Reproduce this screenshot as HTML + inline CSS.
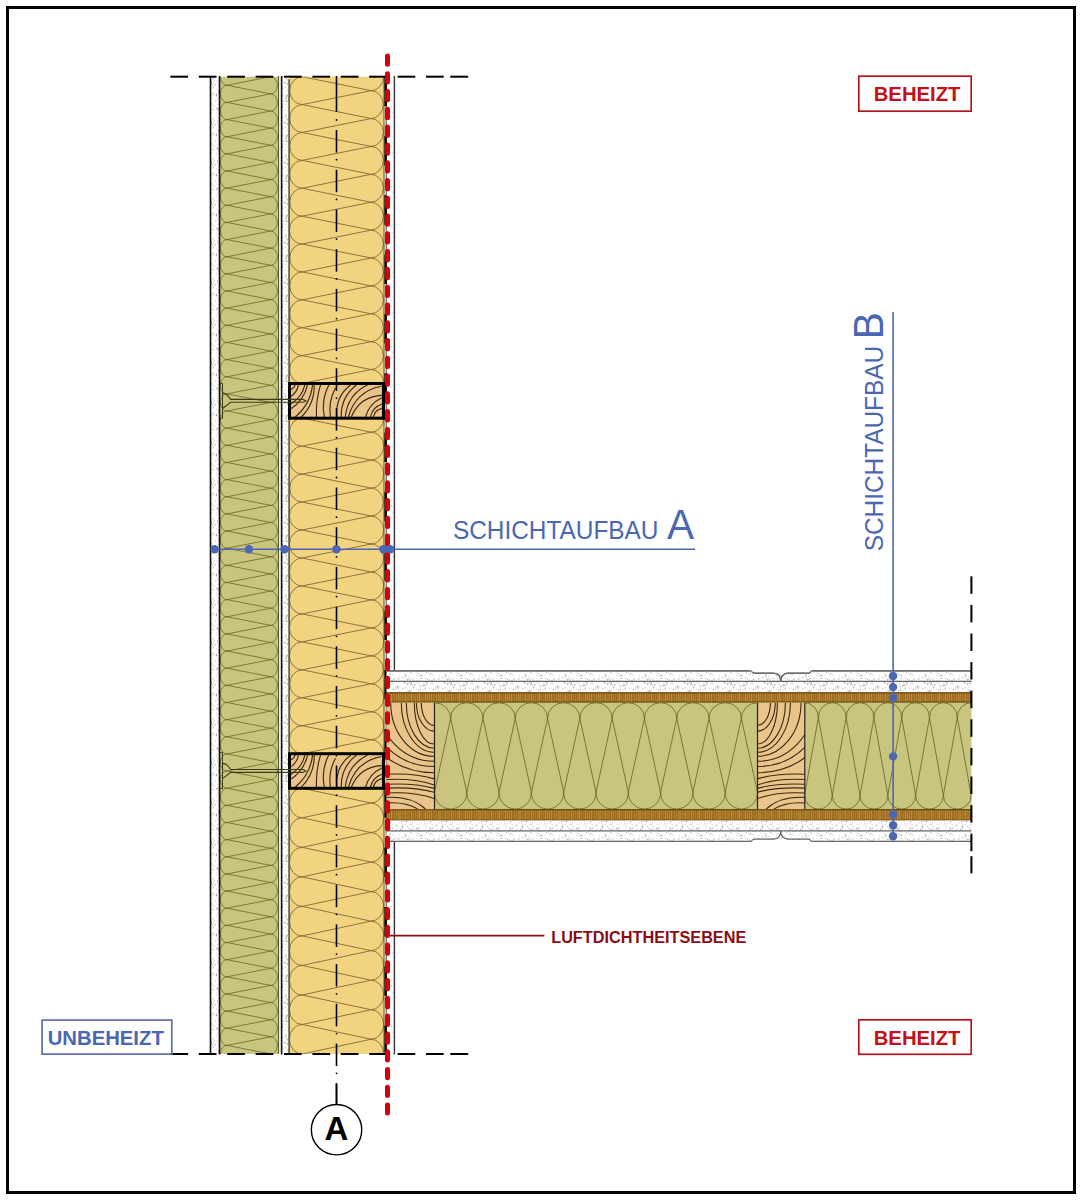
<!DOCTYPE html><html><head><meta charset="utf-8"><style>html,body{margin:0;padding:0;background:#fff;overflow:hidden}svg{display:block}</style></head><body><svg width="1082" height="1200" viewBox="0 0 1082 1200"><defs><pattern id="st" width="40" height="40" patternUnits="userSpaceOnUse"><rect width="40" height="40" fill="#fff"/><circle cx="12.95" cy="6.03" r="0.55" fill="#777"/><circle cx="2.9" cy="21.44" r="0.5" fill="#bbb"/><circle cx="2.32" cy="20.3" r="0.4" fill="#777"/><circle cx="17.35" cy="2.79" r="0.4" fill="#bbb"/><circle cx="16.98" cy="33.07" r="0.4" fill="#888"/><circle cx="25.23" cy="23.32" r="0.4" fill="#bbb"/><circle cx="23.42" cy="1.98" r="0.4" fill="#777"/><circle cx="22.27" cy="5.33" r="0.5" fill="#888"/><circle cx="21.63" cy="22.84" r="0.55" fill="#ccc"/><circle cx="27.28" cy="4.12" r="0.55" fill="#ccc"/><circle cx="7.51" cy="3.9" r="0.55" fill="#777"/><circle cx="22.57" cy="24.76" r="0.5" fill="#ccc"/><circle cx="21.27" cy="31.09" r="0.5" fill="#bbb"/><circle cx="36.94" cy="14.46" r="0.4" fill="#ccc"/><circle cx="7.19" cy="31.19" r="0.4" fill="#bbb"/><circle cx="12.01" cy="19.8" r="0.5" fill="#ccc"/><circle cx="17.95" cy="24.36" r="0.4" fill="#777"/><circle cx="20.48" cy="6.6" r="0.5" fill="#888"/><circle cx="37.33" cy="16.87" r="0.55" fill="#777"/><circle cx="30.58" cy="22.92" r="0.5" fill="#999"/><circle cx="27.81" cy="23.77" r="0.55" fill="#ccc"/><circle cx="18.25" cy="33.6" r="0.5" fill="#aaa"/><circle cx="27.88" cy="2.6" r="0.55" fill="#ccc"/><circle cx="12.38" cy="23.12" r="0.55" fill="#ccc"/><circle cx="17.83" cy="28.67" r="0.55" fill="#999"/><circle cx="0.9" cy="18.47" r="0.4" fill="#bbb"/><circle cx="4.68" cy="2.36" r="0.5" fill="#888"/><circle cx="29.53" cy="15.92" r="0.5" fill="#777"/><circle cx="6.65" cy="16.07" r="0.5" fill="#888"/><circle cx="32.77" cy="34.56" r="0.5" fill="#ccc"/><circle cx="16.61" cy="14.35" r="0.5" fill="#888"/><circle cx="6.04" cy="7.05" r="0.4" fill="#ccc"/><circle cx="9.33" cy="19.4" r="0.55" fill="#888"/><circle cx="10.51" cy="0.16" r="0.5" fill="#bbb"/><circle cx="14.77" cy="22.65" r="0.4" fill="#ccc"/><circle cx="34.37" cy="38.01" r="0.55" fill="#ccc"/><circle cx="29.59" cy="18.27" r="0.55" fill="#ccc"/><circle cx="22.37" cy="15.92" r="0.5" fill="#777"/><circle cx="19.26" cy="16.02" r="0.4" fill="#777"/><circle cx="39.39" cy="17.63" r="0.4" fill="#999"/><circle cx="24.03" cy="4.1" r="0.55" fill="#888"/><circle cx="21.46" cy="37.96" r="0.55" fill="#777"/><circle cx="2.81" cy="8.32" r="0.5" fill="#888"/><circle cx="25.38" cy="38.22" r="0.55" fill="#999"/><circle cx="18.97" cy="4.61" r="0.5" fill="#aaa"/><circle cx="19.22" cy="12.47" r="0.4" fill="#777"/><circle cx="29.99" cy="29.61" r="0.5" fill="#ccc"/><circle cx="27.68" cy="20.65" r="0.4" fill="#bbb"/><circle cx="14.47" cy="27.6" r="0.4" fill="#ccc"/><circle cx="21.12" cy="39.14" r="0.4" fill="#ccc"/><circle cx="33.82" cy="20.74" r="0.4" fill="#999"/><circle cx="30.88" cy="21.3" r="0.55" fill="#999"/><circle cx="25.46" cy="24.53" r="0.4" fill="#ccc"/><circle cx="9.58" cy="16.03" r="0.4" fill="#888"/><circle cx="20.71" cy="14.22" r="0.4" fill="#777"/><circle cx="31.6" cy="18.89" r="0.4" fill="#ccc"/><circle cx="24.21" cy="13.77" r="0.55" fill="#999"/><circle cx="38.2" cy="14.59" r="0.4" fill="#777"/><circle cx="9.07" cy="7.87" r="0.4" fill="#aaa"/><circle cx="24.96" cy="36.01" r="0.4" fill="#aaa"/><circle cx="36.37" cy="13.76" r="0.55" fill="#777"/><circle cx="33.39" cy="4.8" r="0.5" fill="#ccc"/><circle cx="28.46" cy="7.97" r="0.4" fill="#aaa"/><circle cx="31.57" cy="13.3" r="0.55" fill="#aaa"/><circle cx="18.53" cy="29.73" r="0.4" fill="#ccc"/><circle cx="6.35" cy="39.72" r="0.4" fill="#888"/><circle cx="23.63" cy="18.61" r="0.55" fill="#888"/><circle cx="24.46" cy="23.83" r="0.5" fill="#ccc"/><circle cx="37.5" cy="6.24" r="0.55" fill="#888"/><circle cx="0.86" cy="31.97" r="0.55" fill="#ccc"/><circle cx="4.11" cy="29.98" r="0.4" fill="#aaa"/><circle cx="39.46" cy="7.79" r="0.4" fill="#777"/><circle cx="10.07" cy="11.72" r="0.4" fill="#ccc"/><circle cx="23.46" cy="10.37" r="0.5" fill="#ccc"/><circle cx="5.24" cy="36.4" r="0.5" fill="#aaa"/><circle cx="26.5" cy="32.6" r="0.55" fill="#aaa"/><circle cx="33.09" cy="35.13" r="0.4" fill="#bbb"/><circle cx="6.07" cy="20.42" r="0.5" fill="#ccc"/><circle cx="7.32" cy="0.16" r="0.4" fill="#888"/><circle cx="5.66" cy="24.76" r="0.4" fill="#bbb"/><circle cx="2.47" cy="27.29" r="0.55" fill="#bbb"/><circle cx="19.3" cy="31.06" r="0.55" fill="#777"/><circle cx="9.94" cy="11.08" r="0.4" fill="#bbb"/><circle cx="18.09" cy="1.11" r="0.4" fill="#aaa"/><circle cx="13.02" cy="38.93" r="0.55" fill="#bbb"/><circle cx="7.98" cy="11.09" r="0.55" fill="#bbb"/><circle cx="32.29" cy="20.31" r="0.4" fill="#ccc"/><circle cx="20.93" cy="35.04" r="0.5" fill="#bbb"/><circle cx="35.71" cy="8.1" r="0.5" fill="#888"/><circle cx="16.67" cy="15.69" r="0.5" fill="#777"/><circle cx="26.85" cy="17.13" r="0.4" fill="#ccc"/><circle cx="12.11" cy="4.89" r="0.4" fill="#ccc"/><circle cx="25.74" cy="14.65" r="0.5" fill="#888"/><circle cx="38.7" cy="8.78" r="0.4" fill="#aaa"/><circle cx="35.4" cy="6.51" r="0.55" fill="#ccc"/><circle cx="8.95" cy="28.25" r="0.55" fill="#aaa"/><circle cx="13.56" cy="7.83" r="0.5" fill="#777"/><circle cx="28.89" cy="0.78" r="0.55" fill="#aaa"/><circle cx="17.62" cy="0.72" r="0.5" fill="#bbb"/><circle cx="24.96" cy="20.49" r="0.4" fill="#777"/><circle cx="39.4" cy="31.53" r="0.4" fill="#777"/><circle cx="10.62" cy="1.58" r="0.4" fill="#999"/><circle cx="30.23" cy="32.79" r="0.55" fill="#ccc"/><circle cx="37.84" cy="16.24" r="0.55" fill="#bbb"/><circle cx="22.82" cy="28.02" r="0.4" fill="#999"/><circle cx="2.3" cy="27.53" r="0.5" fill="#777"/><circle cx="10.76" cy="0.67" r="0.4" fill="#ccc"/><circle cx="10.42" cy="24.33" r="0.4" fill="#777"/><circle cx="10.58" cy="4.87" r="0.4" fill="#999"/><circle cx="39.77" cy="16.71" r="0.5" fill="#bbb"/><circle cx="5.17" cy="21.08" r="0.4" fill="#777"/><circle cx="38.77" cy="10.48" r="0.4" fill="#888"/><circle cx="37.29" cy="25.15" r="0.55" fill="#ccc"/><circle cx="8.23" cy="17.83" r="0.55" fill="#888"/><circle cx="10.82" cy="32.15" r="0.5" fill="#777"/><circle cx="0.61" cy="29.32" r="0.55" fill="#888"/><circle cx="20.57" cy="9.83" r="0.5" fill="#777"/><circle cx="26.33" cy="26" r="0.55" fill="#aaa"/><circle cx="21.84" cy="35.55" r="0.55" fill="#999"/><circle cx="27.51" cy="39.3" r="0.5" fill="#888"/><circle cx="33.29" cy="28.27" r="0.55" fill="#888"/><circle cx="16.19" cy="13.9" r="0.4" fill="#ccc"/><circle cx="5.19" cy="2.83" r="0.55" fill="#999"/><circle cx="17.23" cy="2.22" r="0.55" fill="#ccc"/><circle cx="15.24" cy="20.24" r="0.5" fill="#bbb"/><circle cx="9.69" cy="11.72" r="0.5" fill="#888"/><circle cx="6.3" cy="17.83" r="0.5" fill="#999"/><circle cx="38.47" cy="38.9" r="0.55" fill="#999"/><circle cx="9.78" cy="38.63" r="0.5" fill="#888"/><circle cx="14.26" cy="0.04" r="0.5" fill="#777"/><circle cx="18.99" cy="20.11" r="0.4" fill="#888"/><circle cx="20.19" cy="0.2" r="0.5" fill="#ccc"/><circle cx="3.59" cy="15.98" r="0.4" fill="#aaa"/><circle cx="0.9" cy="12.17" r="0.4" fill="#777"/><circle cx="23.42" cy="21.17" r="0.4" fill="#ccc"/><circle cx="35.71" cy="31.36" r="0.55" fill="#aaa"/><circle cx="30.57" cy="28.83" r="0.5" fill="#888"/><circle cx="11.37" cy="24.75" r="0.4" fill="#777"/><circle cx="32.99" cy="28.6" r="0.55" fill="#ccc"/><circle cx="17.17" cy="28.04" r="0.55" fill="#888"/><circle cx="36.4" cy="30.11" r="0.55" fill="#ccc"/><circle cx="32.52" cy="0.64" r="0.55" fill="#bbb"/><circle cx="31.92" cy="28.45" r="0.55" fill="#ccc"/><circle cx="9.2" cy="1.25" r="0.4" fill="#ccc"/><circle cx="14.43" cy="4.2" r="0.5" fill="#bbb"/><circle cx="2.03" cy="0.75" r="0.55" fill="#ccc"/><circle cx="9.78" cy="10.55" r="0.5" fill="#ccc"/><circle cx="2.8" cy="37.3" r="0.55" fill="#777"/><circle cx="26.37" cy="2.64" r="0.55" fill="#aaa"/><circle cx="10.09" cy="2.98" r="0.5" fill="#888"/><circle cx="29.17" cy="8.21" r="0.55" fill="#ccc"/><circle cx="39.03" cy="19.76" r="0.5" fill="#777"/><circle cx="19.16" cy="27.35" r="0.4" fill="#bbb"/><circle cx="25.31" cy="7.93" r="0.55" fill="#888"/><circle cx="13.27" cy="26.06" r="0.55" fill="#999"/><circle cx="24.85" cy="5.34" r="0.5" fill="#777"/><circle cx="19.43" cy="38.9" r="0.4" fill="#ccc"/><circle cx="8.71" cy="19.58" r="0.55" fill="#bbb"/><circle cx="11.42" cy="18.64" r="0.4" fill="#bbb"/><circle cx="7.97" cy="39.13" r="0.5" fill="#777"/><circle cx="11.58" cy="3.06" r="0.55" fill="#aaa"/><circle cx="39.76" cy="15.47" r="0.4" fill="#777"/><circle cx="23.26" cy="5.67" r="0.55" fill="#999"/><circle cx="38.11" cy="5.3" r="0.55" fill="#bbb"/><circle cx="11.18" cy="4.51" r="0.5" fill="#888"/><circle cx="19.92" cy="35.05" r="0.5" fill="#777"/><circle cx="6.36" cy="38" r="0.55" fill="#aaa"/><circle cx="16.22" cy="29.09" r="0.5" fill="#999"/><circle cx="15.04" cy="4.84" r="0.5" fill="#777"/><circle cx="12.98" cy="13.53" r="0.5" fill="#777"/><circle cx="37.6" cy="7.83" r="0.4" fill="#ccc"/><circle cx="11.59" cy="14.89" r="0.5" fill="#aaa"/><circle cx="39.95" cy="23.57" r="0.5" fill="#aaa"/><circle cx="30.23" cy="34.17" r="0.5" fill="#777"/><circle cx="2.06" cy="26.48" r="0.55" fill="#888"/><circle cx="9.97" cy="10.63" r="0.55" fill="#999"/><circle cx="7.59" cy="14.93" r="0.5" fill="#777"/><circle cx="32.48" cy="25.24" r="0.55" fill="#bbb"/><circle cx="8.14" cy="3.22" r="0.55" fill="#aaa"/><circle cx="18.03" cy="30.11" r="0.55" fill="#ccc"/><circle cx="11.45" cy="1.96" r="0.55" fill="#888"/><circle cx="6.83" cy="16.59" r="0.5" fill="#999"/><circle cx="10.23" cy="29.55" r="0.55" fill="#999"/><circle cx="16.25" cy="9.55" r="0.5" fill="#bbb"/><circle cx="26.76" cy="4.79" r="0.55" fill="#888"/><circle cx="3.01" cy="20.02" r="0.5" fill="#bbb"/><circle cx="8.8" cy="36.25" r="0.5" fill="#aaa"/><circle cx="5.58" cy="7.7" r="0.4" fill="#888"/><circle cx="13.68" cy="3.64" r="0.4" fill="#999"/><circle cx="10.33" cy="22.78" r="0.4" fill="#ccc"/><circle cx="34.82" cy="15.31" r="0.55" fill="#bbb"/><circle cx="8.4" cy="10.81" r="0.4" fill="#aaa"/><circle cx="11.1" cy="38.71" r="0.4" fill="#ccc"/><circle cx="20.14" cy="25.19" r="0.4" fill="#777"/><circle cx="10.84" cy="9.94" r="0.5" fill="#ccc"/><circle cx="17.83" cy="38.16" r="0.4" fill="#888"/><circle cx="1.29" cy="28.38" r="0.5" fill="#bbb"/><circle cx="19.59" cy="2.93" r="0.55" fill="#ccc"/><circle cx="18.73" cy="17.96" r="0.4" fill="#888"/><circle cx="6.18" cy="20.89" r="0.55" fill="#777"/><circle cx="37.66" cy="28.87" r="0.55" fill="#ccc"/><circle cx="30.59" cy="18.29" r="0.55" fill="#ccc"/><circle cx="1.58" cy="31.29" r="0.4" fill="#bbb"/><circle cx="36.8" cy="25.82" r="0.5" fill="#888"/><circle cx="25.06" cy="21.13" r="0.5" fill="#ccc"/><circle cx="30.55" cy="3.98" r="0.5" fill="#bbb"/><circle cx="37.74" cy="7.67" r="0.5" fill="#888"/><circle cx="31.62" cy="0.05" r="0.55" fill="#999"/><circle cx="39.85" cy="11.14" r="0.5" fill="#ccc"/><circle cx="33.58" cy="9.69" r="0.55" fill="#888"/><circle cx="21.88" cy="1.17" r="0.5" fill="#ccc"/><circle cx="25.99" cy="2.21" r="0.4" fill="#aaa"/><circle cx="35.39" cy="25.89" r="0.4" fill="#999"/><circle cx="9.11" cy="16.97" r="0.5" fill="#888"/><circle cx="19.72" cy="27.83" r="0.55" fill="#aaa"/><circle cx="14.49" cy="15.85" r="0.4" fill="#ccc"/><circle cx="11.68" cy="33.81" r="0.4" fill="#888"/><circle cx="19.83" cy="8.02" r="0.4" fill="#888"/><circle cx="18.6" cy="10.6" r="0.5" fill="#777"/><circle cx="38.08" cy="19.83" r="0.4" fill="#888"/><circle cx="19.4" cy="36.42" r="0.4" fill="#bbb"/><circle cx="5.86" cy="15.74" r="0.4" fill="#777"/><circle cx="38.96" cy="5.68" r="0.4" fill="#ccc"/><circle cx="2.41" cy="15.73" r="0.55" fill="#999"/><circle cx="29.31" cy="39.9" r="0.4" fill="#999"/><circle cx="7.63" cy="26.1" r="0.55" fill="#ccc"/><circle cx="18.7" cy="12.47" r="0.55" fill="#aaa"/><circle cx="33.57" cy="39.4" r="0.5" fill="#888"/><circle cx="4.36" cy="3.13" r="0.4" fill="#999"/><circle cx="16.81" cy="35.41" r="0.55" fill="#ccc"/><circle cx="8.3" cy="14.27" r="0.5" fill="#ccc"/><circle cx="32.16" cy="3.51" r="0.55" fill="#aaa"/><circle cx="7.83" cy="21.66" r="0.5" fill="#888"/><circle cx="12.93" cy="29.49" r="0.5" fill="#777"/><circle cx="25.27" cy="9.92" r="0.55" fill="#ccc"/><circle cx="16.19" cy="15.02" r="0.5" fill="#777"/><circle cx="32.13" cy="2.48" r="0.4" fill="#ccc"/><circle cx="2.51" cy="24.22" r="0.5" fill="#999"/><circle cx="13.4" cy="38.15" r="0.4" fill="#999"/><circle cx="29.86" cy="27.58" r="0.5" fill="#999"/><circle cx="0.15" cy="30.23" r="0.55" fill="#777"/><circle cx="0.97" cy="9.35" r="0.5" fill="#ccc"/><circle cx="38.27" cy="38.16" r="0.5" fill="#ccc"/><circle cx="10.04" cy="17.2" r="0.5" fill="#888"/><circle cx="37.12" cy="7.32" r="0.55" fill="#999"/><circle cx="32.91" cy="30.91" r="0.55" fill="#888"/><circle cx="13.11" cy="12.78" r="0.5" fill="#ccc"/><circle cx="31.29" cy="3.16" r="0.4" fill="#aaa"/><circle cx="30.12" cy="9.89" r="0.4" fill="#ccc"/><circle cx="1.35" cy="22.1" r="0.5" fill="#888"/><circle cx="39.21" cy="35.34" r="0.4" fill="#999"/><circle cx="24.98" cy="8.33" r="0.5" fill="#aaa"/><circle cx="39.54" cy="38.88" r="0.4" fill="#888"/><circle cx="5.32" cy="18.44" r="0.55" fill="#888"/><circle cx="29.92" cy="33.88" r="0.55" fill="#ccc"/><circle cx="4.85" cy="33.63" r="0.5" fill="#999"/><circle cx="22.68" cy="14.92" r="0.55" fill="#999"/><circle cx="7.97" cy="9.9" r="0.4" fill="#888"/><circle cx="6.13" cy="35.37" r="0.55" fill="#888"/><circle cx="13.05" cy="15.84" r="0.4" fill="#bbb"/></pattern><pattern id="st2" width="40" height="40" patternUnits="userSpaceOnUse"><rect width="40" height="40" fill="#fff"/><circle cx="21.05" cy="25.99" r="0.45" fill="#999"/><circle cx="26.13" cy="39.64" r="0.45" fill="#999"/><circle cx="0.18" cy="35.31" r="0.45" fill="#999"/><circle cx="33.62" cy="36.58" r="0.45" fill="#999"/><circle cx="35.08" cy="9.32" r="0.45" fill="#999"/><circle cx="7.58" cy="38.92" r="0.45" fill="#ccc"/><circle cx="7.77" cy="3" r="0.45" fill="#ccc"/><circle cx="34.65" cy="17.96" r="0.45" fill="#bbb"/><circle cx="31" cy="26.59" r="0.45" fill="#999"/><circle cx="4.23" cy="23.85" r="0.45" fill="#ccc"/><circle cx="13.99" cy="1.5" r="0.45" fill="#bbb"/><circle cx="5.65" cy="8.16" r="0.45" fill="#bbb"/><circle cx="1.53" cy="29.29" r="0.45" fill="#999"/><circle cx="32.59" cy="32.75" r="0.45" fill="#bbb"/><circle cx="27.13" cy="7.41" r="0.45" fill="#bbb"/><circle cx="3.12" cy="1.26" r="0.45" fill="#bbb"/><circle cx="21.92" cy="2.53" r="0.45" fill="#999"/><circle cx="31.83" cy="26.56" r="0.45" fill="#999"/><circle cx="25.57" cy="3.65" r="0.45" fill="#999"/><circle cx="15.91" cy="10.85" r="0.45" fill="#bbb"/><circle cx="26.71" cy="16.71" r="0.45" fill="#999"/><circle cx="12.49" cy="22.66" r="0.45" fill="#bbb"/><circle cx="16.56" cy="0.73" r="0.45" fill="#bbb"/><circle cx="25.78" cy="15.63" r="0.45" fill="#bbb"/><circle cx="8.15" cy="0.24" r="0.45" fill="#999"/><circle cx="16.95" cy="32.81" r="0.45" fill="#bbb"/><circle cx="23.11" cy="14.59" r="0.45" fill="#999"/><circle cx="5.2" cy="2.07" r="0.45" fill="#999"/><circle cx="25.63" cy="36.39" r="0.45" fill="#999"/><circle cx="22.91" cy="37.09" r="0.45" fill="#ccc"/><circle cx="20.18" cy="5.84" r="0.45" fill="#bbb"/><circle cx="6.47" cy="6.87" r="0.45" fill="#999"/><circle cx="4.35" cy="19.62" r="0.45" fill="#999"/><circle cx="12.06" cy="33.49" r="0.45" fill="#999"/><circle cx="39.02" cy="19.31" r="0.45" fill="#999"/><circle cx="24.31" cy="25.45" r="0.45" fill="#999"/><circle cx="36.17" cy="24.81" r="0.45" fill="#999"/><circle cx="25.61" cy="34.26" r="0.45" fill="#ccc"/><circle cx="16.18" cy="33.85" r="0.45" fill="#bbb"/><circle cx="7.32" cy="8.73" r="0.45" fill="#bbb"/><circle cx="37.54" cy="6.26" r="0.45" fill="#bbb"/><circle cx="4.92" cy="9.88" r="0.45" fill="#ccc"/><circle cx="32.63" cy="7.7" r="0.45" fill="#ccc"/><circle cx="33.7" cy="26.89" r="0.45" fill="#ccc"/><circle cx="33.53" cy="4.71" r="0.45" fill="#ccc"/><circle cx="18.23" cy="33.96" r="0.45" fill="#bbb"/><circle cx="25.96" cy="12.33" r="0.45" fill="#999"/><circle cx="17.03" cy="26.35" r="0.45" fill="#bbb"/><circle cx="20.14" cy="7.15" r="0.45" fill="#999"/><circle cx="24.76" cy="19.58" r="0.45" fill="#999"/><circle cx="17.87" cy="24.74" r="0.45" fill="#bbb"/><circle cx="33.46" cy="32.42" r="0.45" fill="#bbb"/><circle cx="4.28" cy="5.14" r="0.45" fill="#bbb"/><circle cx="14.61" cy="32.09" r="0.45" fill="#ccc"/><circle cx="20.41" cy="1.63" r="0.45" fill="#ccc"/><circle cx="5.21" cy="36.89" r="0.45" fill="#bbb"/><circle cx="31.11" cy="20.46" r="0.45" fill="#999"/><circle cx="30.08" cy="35.79" r="0.45" fill="#ccc"/><circle cx="38.03" cy="5.45" r="0.45" fill="#999"/><circle cx="39.84" cy="29.28" r="0.45" fill="#999"/></pattern><pattern id="osb" width="40" height="20" patternUnits="userSpaceOnUse"><rect width="40" height="20" fill="#9a6818"/><rect x="0.3" y="0" width="0.7" height="20" fill="#bc8e3e"/><rect x="2.4" y="0" width="0.9" height="20" fill="#bc8e3e"/><rect x="4.8" y="0" width="1.0" height="20" fill="#bc8e3e"/><rect x="6.6" y="0" width="0.9" height="20" fill="#b5883a"/><rect x="8.7" y="0" width="0.7" height="20" fill="#c39842"/><rect x="11.1" y="0" width="0.9" height="20" fill="#c39842"/><rect x="12.9" y="0" width="0.9" height="20" fill="#b5883a"/><rect x="15" y="0" width="0.7" height="20" fill="#b5883a"/><rect x="17.1" y="0" width="1.0" height="20" fill="#b5883a"/><rect x="18.9" y="0" width="0.9" height="20" fill="#c39842"/><rect x="20.7" y="0" width="0.7" height="20" fill="#bc8e3e"/><rect x="22.8" y="0" width="0.7" height="20" fill="#b5883a"/><rect x="24.9" y="0" width="1.0" height="20" fill="#c39842"/><rect x="27" y="0" width="0.7" height="20" fill="#c39842"/><rect x="28.8" y="0" width="1.0" height="20" fill="#bc8e3e"/><rect x="31.2" y="0" width="0.9" height="20" fill="#c39842"/><rect x="33.6" y="0" width="1.0" height="20" fill="#b5883a"/><rect x="36" y="0" width="0.7" height="20" fill="#c39842"/><rect x="38.4" y="0" width="1.0" height="20" fill="#c39842"/></pattern><clipPath id="cg"><rect x="219.5" y="76.7" width="59" height="977.3"/></clipPath><clipPath id="cy0"><rect x="289" y="76.7" width="95.5" height="306.8"/></clipPath><clipPath id="cy1"><rect x="289" y="418.2" width="95.5" height="335.5"/></clipPath><clipPath id="cy2"><rect x="289" y="788.3" width="95.5" height="265.7"/></clipPath><clipPath id="ct1"><rect x="289.5" y="383.5" width="94" height="34.7"/></clipPath><clipPath id="ct2"><rect x="289.5" y="753.7" width="94" height="34.6"/></clipPath><clipPath id="cfa"><rect x="434.5" y="702.7" width="323" height="106.4"/></clipPath><clipPath id="cfb"><rect x="804.5" y="702.7" width="166.9" height="106.4"/></clipPath><clipPath id="cb1"><rect x="387" y="702.7" width="47.5" height="106.4"/></clipPath><clipPath id="cb2"><rect x="757.5" y="702.7" width="47.3" height="106.4"/></clipPath></defs><rect width="1082" height="1200" fill="#fff"/><rect x="7.5" y="7.5" width="1067" height="1185" fill="none" stroke="#000" stroke-width="3"/><rect x="211" y="76.7" width="8.5" height="977.3" fill="url(#st)"/><rect x="282" y="76.7" width="7" height="977.3" fill="url(#st)"/><rect x="386" y="76.7" width="8.5" height="977.3" fill="url(#st2)"/><rect x="219.5" y="76.7" width="59" height="977.3" fill="#c9c57f"/><path clip-path="url(#cg)" d="M227 50.98A6.6 8.57 0 0 0 227 68.13M270.7 42.41A6.7 8.57 0 0 1 270.7 59.56M227 33.84L270.7 42.41M227 50.98L270.7 42.41M227 68.13A6.6 8.57 0 0 0 227 85.27M270.7 59.56A6.7 8.57 0 0 1 270.7 76.7M227 50.98L270.7 59.56M227 68.13L270.7 59.56M227 85.27A6.6 8.57 0 0 0 227 102.42M270.7 76.7A6.7 8.57 0 0 1 270.7 93.84M227 68.13L270.7 76.7M227 85.27L270.7 76.7M227 102.42A6.6 8.57 0 0 0 227 119.56M270.7 93.84A6.7 8.57 0 0 1 270.7 110.99M227 85.27L270.7 93.84M227 102.42L270.7 93.84M227 119.56A6.6 8.57 0 0 0 227 136.71M270.7 110.99A6.7 8.57 0 0 1 270.7 128.14M227 102.42L270.7 110.99M227 119.56L270.7 110.99M227 136.71A6.6 8.57 0 0 0 227 153.85M270.7 128.13A6.7 8.57 0 0 1 270.7 145.28M227 119.56L270.7 128.13M227 136.71L270.7 128.13M227 153.85A6.6 8.57 0 0 0 227 171M270.7 145.28A6.7 8.57 0 0 1 270.7 162.43M227 136.71L270.7 145.28M227 153.85L270.7 145.28M227 171A6.6 8.57 0 0 0 227 188.14M270.7 162.43A6.7 8.57 0 0 1 270.7 179.57M227 153.85L270.7 162.43M227 171L270.7 162.43M227 188.14A6.6 8.57 0 0 0 227 205.29M270.7 179.57A6.7 8.57 0 0 1 270.7 196.72M227 171L270.7 179.57M227 188.14L270.7 179.57M227 205.29A6.6 8.57 0 0 0 227 222.43M270.7 196.72A6.7 8.57 0 0 1 270.7 213.86M227 188.14L270.7 196.72M227 205.29L270.7 196.72M227 222.43A6.6 8.57 0 0 0 227 239.58M270.7 213.86A6.7 8.57 0 0 1 270.7 231.01M227 205.29L270.7 213.86M227 222.43L270.7 213.86M227 239.58A6.6 8.57 0 0 0 227 256.72M270.7 231A6.7 8.57 0 0 1 270.7 248.15M227 222.43L270.7 231M227 239.58L270.7 231M227 256.72A6.6 8.57 0 0 0 227 273.87M270.7 248.15A6.7 8.57 0 0 1 270.7 265.29M227 239.58L270.7 248.15M227 256.72L270.7 248.15M227 273.87A6.6 8.57 0 0 0 227 291.01M270.7 265.3A6.7 8.57 0 0 1 270.7 282.44M227 256.72L270.7 265.3M227 273.87L270.7 265.3M227 291.01A6.6 8.57 0 0 0 227 308.16M270.7 282.44A6.7 8.57 0 0 1 270.7 299.58M227 273.87L270.7 282.44M227 291.01L270.7 282.44M227 308.16A6.6 8.57 0 0 0 227 325.3M270.7 299.58A6.7 8.57 0 0 1 270.7 316.73M227 291.01L270.7 299.58M227 308.16L270.7 299.58M227 325.3A6.6 8.57 0 0 0 227 342.45M270.7 316.73A6.7 8.57 0 0 1 270.7 333.88M227 308.16L270.7 316.73M227 325.3L270.7 316.73M227 342.45A6.6 8.57 0 0 0 227 359.59M270.7 333.88A6.7 8.57 0 0 1 270.7 351.02M227 325.3L270.7 333.88M227 342.45L270.7 333.88M227 359.59A6.6 8.57 0 0 0 227 376.74M270.7 351.02A6.7 8.57 0 0 1 270.7 368.16M227 342.45L270.7 351.02M227 359.59L270.7 351.02M227 376.74A6.6 8.57 0 0 0 227 393.88M270.7 368.16A6.7 8.57 0 0 1 270.7 385.31M227 359.59L270.7 368.16M227 376.74L270.7 368.16M227 393.88A6.6 8.57 0 0 0 227 411.03M270.7 385.31A6.7 8.57 0 0 1 270.7 402.45M227 376.74L270.7 385.31M227 393.88L270.7 385.31M227 411.03A6.6 8.57 0 0 0 227 428.17M270.7 402.45A6.7 8.57 0 0 1 270.7 419.6M227 393.88L270.7 402.45M227 411.03L270.7 402.45M227 428.17A6.6 8.57 0 0 0 227 445.32M270.7 419.6A6.7 8.57 0 0 1 270.7 436.74M227 411.03L270.7 419.6M227 428.17L270.7 419.6M227 445.32A6.6 8.57 0 0 0 227 462.46M270.7 436.75A6.7 8.57 0 0 1 270.7 453.89M227 428.17L270.7 436.75M227 445.32L270.7 436.75M227 462.46A6.6 8.57 0 0 0 227 479.61M270.7 453.89A6.7 8.57 0 0 1 270.7 471.03M227 445.32L270.7 453.89M227 462.46L270.7 453.89M227 479.61A6.6 8.57 0 0 0 227 496.75M270.7 471.03A6.7 8.57 0 0 1 270.7 488.18M227 462.46L270.7 471.03M227 479.61L270.7 471.03M227 496.75A6.6 8.57 0 0 0 227 513.9M270.7 488.18A6.7 8.57 0 0 1 270.7 505.32M227 479.61L270.7 488.18M227 496.75L270.7 488.18M227 513.9A6.6 8.57 0 0 0 227 531.04M270.7 505.32A6.7 8.57 0 0 1 270.7 522.47M227 496.75L270.7 505.32M227 513.9L270.7 505.32M227 531.04A6.6 8.57 0 0 0 227 548.19M270.7 522.47A6.7 8.57 0 0 1 270.7 539.62M227 513.9L270.7 522.47M227 531.04L270.7 522.47M227 548.19A6.6 8.57 0 0 0 227 565.33M270.7 539.62A6.7 8.57 0 0 1 270.7 556.76M227 531.04L270.7 539.62M227 548.19L270.7 539.62M227 565.33A6.6 8.57 0 0 0 227 582.48M270.7 556.76A6.7 8.57 0 0 1 270.7 573.9M227 548.19L270.7 556.76M227 565.33L270.7 556.76M227 582.48A6.6 8.57 0 0 0 227 599.62M270.7 573.9A6.7 8.57 0 0 1 270.7 591.05M227 565.33L270.7 573.9M227 582.48L270.7 573.9M227 599.62A6.6 8.57 0 0 0 227 616.77M270.7 591.05A6.7 8.57 0 0 1 270.7 608.2M227 582.48L270.7 591.05M227 599.62L270.7 591.05M227 616.77A6.6 8.57 0 0 0 227 633.91M270.7 608.2A6.7 8.57 0 0 1 270.7 625.34M227 599.62L270.7 608.2M227 616.77L270.7 608.2M227 633.91A6.6 8.57 0 0 0 227 651.06M270.7 625.34A6.7 8.57 0 0 1 270.7 642.49M227 616.77L270.7 625.34M227 633.91L270.7 625.34M227 651.06A6.6 8.57 0 0 0 227 668.2M270.7 642.49A6.7 8.57 0 0 1 270.7 659.63M227 633.91L270.7 642.49M227 651.06L270.7 642.49M227 668.2A6.6 8.57 0 0 0 227 685.35M270.7 659.63A6.7 8.57 0 0 1 270.7 676.77M227 651.06L270.7 659.63M227 668.2L270.7 659.63M227 685.35A6.6 8.57 0 0 0 227 702.49M270.7 676.77A6.7 8.57 0 0 1 270.7 693.92M227 668.2L270.7 676.77M227 685.35L270.7 676.77M227 702.49A6.6 8.57 0 0 0 227 719.64M270.7 693.92A6.7 8.57 0 0 1 270.7 711.07M227 685.35L270.7 693.92M227 702.49L270.7 693.92M227 719.64A6.6 8.57 0 0 0 227 736.78M270.7 711.07A6.7 8.57 0 0 1 270.7 728.21M227 702.49L270.7 711.07M227 719.64L270.7 711.07M227 736.78A6.6 8.57 0 0 0 227 753.93M270.7 728.21A6.7 8.57 0 0 1 270.7 745.36M227 719.64L270.7 728.21M227 736.78L270.7 728.21M227 753.93A6.6 8.57 0 0 0 227 771.07M270.7 745.36A6.7 8.57 0 0 1 270.7 762.5M227 736.78L270.7 745.36M227 753.93L270.7 745.36M227 771.07A6.6 8.57 0 0 0 227 788.22M270.7 762.5A6.7 8.57 0 0 1 270.7 779.64M227 753.93L270.7 762.5M227 771.07L270.7 762.5M227 788.22A6.6 8.57 0 0 0 227 805.36M270.7 779.64A6.7 8.57 0 0 1 270.7 796.79M227 771.07L270.7 779.64M227 788.22L270.7 779.64M227 805.36A6.6 8.57 0 0 0 227 822.51M270.7 796.79A6.7 8.57 0 0 1 270.7 813.94M227 788.22L270.7 796.79M227 805.36L270.7 796.79M227 822.51A6.6 8.57 0 0 0 227 839.65M270.7 813.94A6.7 8.57 0 0 1 270.7 831.08M227 805.36L270.7 813.94M227 822.51L270.7 813.94M227 839.65A6.6 8.57 0 0 0 227 856.8M270.7 831.08A6.7 8.57 0 0 1 270.7 848.23M227 822.51L270.7 831.08M227 839.65L270.7 831.08M227 856.8A6.6 8.57 0 0 0 227 873.94M270.7 848.23A6.7 8.57 0 0 1 270.7 865.37M227 839.65L270.7 848.23M227 856.8L270.7 848.23M227 873.94A6.6 8.57 0 0 0 227 891.09M270.7 865.37A6.7 8.57 0 0 1 270.7 882.51M227 856.8L270.7 865.37M227 873.94L270.7 865.37M227 891.09A6.6 8.57 0 0 0 227 908.23M270.7 882.51A6.7 8.57 0 0 1 270.7 899.66M227 873.94L270.7 882.51M227 891.09L270.7 882.51M227 908.23A6.6 8.57 0 0 0 227 925.38M270.7 899.66A6.7 8.57 0 0 1 270.7 916.81M227 891.09L270.7 899.66M227 908.23L270.7 899.66M227 925.38A6.6 8.57 0 0 0 227 942.52M270.7 916.81A6.7 8.57 0 0 1 270.7 933.95M227 908.23L270.7 916.81M227 925.38L270.7 916.81M227 942.52A6.6 8.57 0 0 0 227 959.67M270.7 933.95A6.7 8.57 0 0 1 270.7 951.1M227 925.38L270.7 933.95M227 942.52L270.7 933.95M227 959.67A6.6 8.57 0 0 0 227 976.81M270.7 951.1A6.7 8.57 0 0 1 270.7 968.24M227 942.52L270.7 951.1M227 959.67L270.7 951.1M227 976.81A6.6 8.57 0 0 0 227 993.96M270.7 968.24A6.7 8.57 0 0 1 270.7 985.38M227 959.67L270.7 968.24M227 976.81L270.7 968.24M227 993.96A6.6 8.57 0 0 0 227 1011.1M270.7 985.38A6.7 8.57 0 0 1 270.7 1002.53M227 976.81L270.7 985.38M227 993.96L270.7 985.38M227 1011.1A6.6 8.57 0 0 0 227 1028.25M270.7 1002.53A6.7 8.57 0 0 1 270.7 1019.67M227 993.96L270.7 1002.53M227 1011.1L270.7 1002.53M227 1028.25A6.6 8.57 0 0 0 227 1045.39M270.7 1019.68A6.7 8.57 0 0 1 270.7 1036.82M227 1011.1L270.7 1019.68M227 1028.25L270.7 1019.68M227 1045.39A6.6 8.57 0 0 0 227 1062.54M270.7 1036.82A6.7 8.57 0 0 1 270.7 1053.96M227 1028.25L270.7 1036.82M227 1045.39L270.7 1036.82M227 1062.54A6.6 8.57 0 0 0 227 1079.68M270.7 1053.96A6.7 8.57 0 0 1 270.7 1071.11M227 1045.39L270.7 1053.96M227 1062.54L270.7 1053.96M227 1079.68A6.6 8.57 0 0 0 227 1096.83M270.7 1071.11A6.7 8.57 0 0 1 270.7 1088.25M227 1062.54L270.7 1071.11M227 1079.68L270.7 1071.11M227 1096.83A6.6 8.57 0 0 0 227 1113.97M270.7 1088.25A6.7 8.57 0 0 1 270.7 1105.4M227 1079.68L270.7 1088.25M227 1096.83L270.7 1088.25" fill="none" stroke="#656128" stroke-width="0.75"/><rect x="289" y="76.7" width="95.5" height="977.3" fill="#f2d37f"/><path clip-path="url(#cy0)" d="M302.2 20.92A12.8 13.95 0 0 0 302.2 48.81M371 34.86A12.7 13.95 0 0 1 371 62.75M302.2 20.92L371 34.86M302.2 48.81L371 34.86M302.2 48.81A12.8 13.95 0 0 0 302.2 76.7M371 62.75A12.7 13.95 0 0 1 371 90.65M302.2 48.81L371 62.75M302.2 76.7L371 62.75M302.2 76.7A12.8 13.95 0 0 0 302.2 104.59M371 90.65A12.7 13.95 0 0 1 371 118.54M302.2 76.7L371 90.65M302.2 104.59L371 90.65M302.2 104.59A12.8 13.95 0 0 0 302.2 132.48M371 118.54A12.7 13.95 0 0 1 371 146.43M302.2 104.59L371 118.54M302.2 132.48L371 118.54M302.2 132.48A12.8 13.95 0 0 0 302.2 160.37M371 146.43A12.7 13.95 0 0 1 371 174.32M302.2 132.48L371 146.43M302.2 160.37L371 146.43M302.2 160.37A12.8 13.95 0 0 0 302.2 188.26M371 174.32A12.7 13.95 0 0 1 371 202.21M302.2 160.37L371 174.32M302.2 188.26L371 174.32M302.2 188.26A12.8 13.95 0 0 0 302.2 216.15M371 202.21A12.7 13.95 0 0 1 371 230.1M302.2 188.26L371 202.21M302.2 216.15L371 202.21M302.2 216.15A12.8 13.95 0 0 0 302.2 244.05M371 230.1A12.7 13.95 0 0 1 371 257.99M302.2 216.15L371 230.1M302.2 244.05L371 230.1M302.2 244.05A12.8 13.95 0 0 0 302.2 271.94M371 257.99A12.7 13.95 0 0 1 371 285.88M302.2 244.05L371 257.99M302.2 271.94L371 257.99M302.2 271.94A12.8 13.95 0 0 0 302.2 299.83M371 285.88A12.7 13.95 0 0 1 371 313.77M302.2 271.94L371 285.88M302.2 299.83L371 285.88M302.2 299.83A12.8 13.95 0 0 0 302.2 327.72M371 313.77A12.7 13.95 0 0 1 371 341.66M302.2 299.83L371 313.77M302.2 327.72L371 313.77M302.2 327.72A12.8 13.95 0 0 0 302.2 355.61M371 341.66A12.7 13.95 0 0 1 371 369.55M302.2 327.72L371 341.66M302.2 355.61L371 341.66M302.2 355.61A12.8 13.95 0 0 0 302.2 383.5M371 369.55A12.7 13.95 0 0 1 371 397.45M302.2 355.61L371 369.55M302.2 383.5L371 369.55M302.2 383.5A12.8 13.95 0 0 0 302.2 411.39M371 397.45A12.7 13.95 0 0 1 371 425.34M302.2 383.5L371 397.45M302.2 411.39L371 397.45M302.2 411.39A12.8 13.95 0 0 0 302.2 439.28M371 425.34A12.7 13.95 0 0 1 371 453.23M302.2 411.39L371 425.34M302.2 439.28L371 425.34" fill="none" stroke="#84683a" stroke-width="0.9"/><path clip-path="url(#cy1)" d="M302.2 362.28A12.8 13.98 0 0 0 302.2 390.24M371 376.26A12.7 13.98 0 0 1 371 404.22M302.2 362.28L371 376.26M302.2 390.24L371 376.26M302.2 390.24A12.8 13.98 0 0 0 302.2 418.2M371 404.22A12.7 13.98 0 0 1 371 432.18M302.2 390.24L371 404.22M302.2 418.2L371 404.22M302.2 418.2A12.8 13.98 0 0 0 302.2 446.16M371 432.18A12.7 13.98 0 0 1 371 460.14M302.2 418.2L371 432.18M302.2 446.16L371 432.18M302.2 446.16A12.8 13.98 0 0 0 302.2 474.12M371 460.14A12.7 13.98 0 0 1 371 488.1M302.2 446.16L371 460.14M302.2 474.12L371 460.14M302.2 474.12A12.8 13.98 0 0 0 302.2 502.07M371 488.1A12.7 13.98 0 0 1 371 516.05M302.2 474.12L371 488.1M302.2 502.07L371 488.1M302.2 502.07A12.8 13.98 0 0 0 302.2 530.03M371 516.05A12.7 13.98 0 0 1 371 544.01M302.2 502.07L371 516.05M302.2 530.03L371 516.05M302.2 530.03A12.8 13.98 0 0 0 302.2 557.99M371 544.01A12.7 13.98 0 0 1 371 571.97M302.2 530.03L371 544.01M302.2 557.99L371 544.01M302.2 557.99A12.8 13.98 0 0 0 302.2 585.95M371 571.97A12.7 13.98 0 0 1 371 599.93M302.2 557.99L371 571.97M302.2 585.95L371 571.97M302.2 585.95A12.8 13.98 0 0 0 302.2 613.91M371 599.93A12.7 13.98 0 0 1 371 627.89M302.2 585.95L371 599.93M302.2 613.91L371 599.93M302.2 613.91A12.8 13.98 0 0 0 302.2 641.87M371 627.89A12.7 13.98 0 0 1 371 655.85M302.2 613.91L371 627.89M302.2 641.87L371 627.89M302.2 641.87A12.8 13.98 0 0 0 302.2 669.83M371 655.85A12.7 13.98 0 0 1 371 683.8M302.2 641.87L371 655.85M302.2 669.82L371 655.85M302.2 669.83A12.8 13.98 0 0 0 302.2 697.78M371 683.8A12.7 13.98 0 0 1 371 711.76M302.2 669.83L371 683.8M302.2 697.78L371 683.8M302.2 697.78A12.8 13.98 0 0 0 302.2 725.74M371 711.76A12.7 13.98 0 0 1 371 739.72M302.2 697.78L371 711.76M302.2 725.74L371 711.76M302.2 725.74A12.8 13.98 0 0 0 302.2 753.7M371 739.72A12.7 13.98 0 0 1 371 767.68M302.2 725.74L371 739.72M302.2 753.7L371 739.72M302.2 753.7A12.8 13.98 0 0 0 302.2 781.66M371 767.68A12.7 13.98 0 0 1 371 795.64M302.2 753.7L371 767.68M302.2 781.66L371 767.68M302.2 781.66A12.8 13.98 0 0 0 302.2 809.62M371 795.64A12.7 13.98 0 0 1 371 823.6M302.2 781.66L371 795.64M302.2 809.62L371 795.64" fill="none" stroke="#84683a" stroke-width="0.9"/><path clip-path="url(#cy2)" d="M302.2 729.26A12.8 14.76 0 0 0 302.2 758.78M371 744.02A12.7 14.76 0 0 1 371 773.54M302.2 729.26L371 744.02M302.2 758.78L371 744.02M302.2 758.78A12.8 14.76 0 0 0 302.2 788.3M371 773.54A12.7 14.76 0 0 1 371 803.06M302.2 758.78L371 773.54M302.2 788.3L371 773.54M302.2 788.3A12.8 14.76 0 0 0 302.2 817.82M371 803.06A12.7 14.76 0 0 1 371 832.58M302.2 788.3L371 803.06M302.2 817.82L371 803.06M302.2 817.82A12.8 14.76 0 0 0 302.2 847.34M371 832.58A12.7 14.76 0 0 1 371 862.11M302.2 817.82L371 832.58M302.2 847.34L371 832.58M302.2 847.34A12.8 14.76 0 0 0 302.2 876.87M371 862.11A12.7 14.76 0 0 1 371 891.63M302.2 847.34L371 862.11M302.2 876.87L371 862.11M302.2 876.87A12.8 14.76 0 0 0 302.2 906.39M371 891.63A12.7 14.76 0 0 1 371 921.15M302.2 876.87L371 891.63M302.2 906.39L371 891.63M302.2 906.39A12.8 14.76 0 0 0 302.2 935.91M371 921.15A12.7 14.76 0 0 1 371 950.67M302.2 906.39L371 921.15M302.2 935.91L371 921.15M302.2 935.91A12.8 14.76 0 0 0 302.2 965.43M371 950.67A12.7 14.76 0 0 1 371 980.19M302.2 935.91L371 950.67M302.2 965.43L371 950.67M302.2 965.43A12.8 14.76 0 0 0 302.2 994.96M371 980.19A12.7 14.76 0 0 1 371 1009.72M302.2 965.43L371 980.19M302.2 994.96L371 980.19M302.2 994.96A12.8 14.76 0 0 0 302.2 1024.48M371 1009.72A12.7 14.76 0 0 1 371 1039.24M302.2 994.96L371 1009.72M302.2 1024.48L371 1009.72M302.2 1024.48A12.8 14.76 0 0 0 302.2 1054M371 1039.24A12.7 14.76 0 0 1 371 1068.76M302.2 1024.48L371 1039.24M302.2 1054L371 1039.24M302.2 1054A12.8 14.76 0 0 0 302.2 1083.52M371 1068.76A12.7 14.76 0 0 1 371 1098.28M302.2 1054L371 1068.76M302.2 1083.52L371 1068.76M302.2 1083.52A12.8 14.76 0 0 0 302.2 1113.04M371 1098.28A12.7 14.76 0 0 1 371 1127.81M302.2 1083.52L371 1098.28M302.2 1113.04L371 1098.28" fill="none" stroke="#84683a" stroke-width="0.9"/><line x1="210.5" y1="76" x2="210.5" y2="1054.5" stroke="#111" stroke-width="1.6"/><line x1="219.5" y1="76" x2="219.5" y2="1054.5" stroke="#111" stroke-width="1.6"/><line x1="278.6" y1="76" x2="278.6" y2="1054" stroke="#4a4a20" stroke-width="1.0"/><line x1="281.6" y1="76" x2="281.6" y2="1054.5" stroke="#111" stroke-width="1.6"/><line x1="289.1" y1="79.3" x2="289.1" y2="1054" stroke="#555" stroke-width="1.6"/><line x1="384" y1="76.7" x2="384" y2="1054" stroke="#4f4530" stroke-width="0.9"/><line x1="386.2" y1="76.7" x2="386.2" y2="1054" stroke="#444" stroke-width="1.0"/><line x1="385.6" y1="76.7" x2="385.6" y2="1054" stroke="#000" stroke-width="2.4" stroke-dasharray="29.5 29.8"/><line x1="394.4" y1="76" x2="394.4" y2="671" stroke="#333" stroke-width="1.4"/><line x1="394.4" y1="841.3" x2="394.4" y2="1054.5" stroke="#333" stroke-width="1.4"/><rect x="289.5" y="383.5" width="94" height="34.7" fill="#eac48b"/><path clip-path="url(#ct1)" d="M290 389.7Q294.31 388.73 295.2 384.4M290 397.1Q297.24 392.75 298.5 384.4M290 404.5Q301.99 397.8 305 384.4M290 409.6Q304.09 400.68 307.7 384.4M295.2 417Q310.6 404.28 312.6 384.4M301.3 417Q314.82 403.5 314.2 384.4M316.5 417Q315.62 400.32 320.7 384.4M324.4 417Q320.76 399.86 329 384.4M330.4 417Q328.03 401.63 335.5 388M337 417Q334.71 396.96 350.8 384.8M341.2 417Q340.78 397.02 356.6 384.8M345.3 417Q347.47 394.62 367.7 384.8M348.4 417Q355.36 391.4 381.4 386.3M351.3 417Q359.74 396.39 382 395.4M365.5 417Q369.2 403.49 382 397.8M370.5 417Q372.51 407.19 382 404M373.4 417Q374.87 409.87 382 408.4" fill="none" stroke="#3b2a10" stroke-width="1.15"/><rect x="289.5" y="383.5" width="94" height="34.7" fill="none" stroke="#000" stroke-width="3"/><rect x="289.5" y="753.7" width="94" height="34.6" fill="#eac48b"/><path clip-path="url(#ct2)" d="M290 759.9Q294.31 758.93 295.2 754.6M290 767.3Q297.24 762.95 298.5 754.6M290 774.7Q301.99 768 305 754.6M290 779.8Q304.09 770.88 307.7 754.6M295.2 787.2Q310.6 774.48 312.6 754.6M301.3 787.2Q314.82 773.7 314.2 754.6M316.5 787.2Q315.62 770.52 320.7 754.6M324.4 787.2Q320.76 770.06 329 754.6M330.4 787.2Q328.03 771.83 335.5 758.2M337 787.2Q334.71 767.16 350.8 755M341.2 787.2Q340.78 767.22 356.6 755M345.3 787.2Q347.47 764.82 367.7 755M348.4 787.2Q355.36 761.6 381.4 756.5M351.3 787.2Q359.74 766.59 382 765.6M365.5 787.2Q369.2 773.69 382 768M370.5 787.2Q372.51 777.39 382 774.2M373.4 787.2Q374.87 780.07 382 778.6" fill="none" stroke="#3b2a10" stroke-width="1.15"/><rect x="289.5" y="753.7" width="94" height="34.6" fill="none" stroke="#000" stroke-width="3"/><path d="M219.8 383.3 H222.5 V418.4 H219.8" fill="none" stroke="#3e3c16" stroke-width="1"/><path d="M222.5 393.3 Q226 393.5 228 395.9 L230.7 399.4 L303 399.4 L306 400.9 L303 402.3 L230.7 402.3 L222.5 408.5" fill="none" stroke="#3e3c16" stroke-width="1.1"/><path d="M219.8 752.6 H222.5 V788.5 H219.8" fill="none" stroke="#3e3c16" stroke-width="1"/><path d="M222.5 763.4 Q226 763.6 228 766 L230.7 769.5 L303 769.5 L306 771 L303 772.4 L230.7 772.4 L222.5 778.6" fill="none" stroke="#3e3c16" stroke-width="1.1"/><line x1="170.4" y1="76.7" x2="188.1" y2="76.7" stroke="#000" stroke-width="2.0"/><line x1="198.8" y1="76.7" x2="216.5" y2="76.7" stroke="#000" stroke-width="2.0"/><line x1="227.2" y1="76.7" x2="244.9" y2="76.7" stroke="#000" stroke-width="2.0"/><line x1="255.6" y1="76.7" x2="273.3" y2="76.7" stroke="#000" stroke-width="2.0"/><line x1="284" y1="76.7" x2="301.7" y2="76.7" stroke="#000" stroke-width="2.0"/><line x1="312.4" y1="76.7" x2="330.1" y2="76.7" stroke="#000" stroke-width="2.0"/><line x1="340.8" y1="76.7" x2="358.5" y2="76.7" stroke="#000" stroke-width="2.0"/><line x1="369.2" y1="76.7" x2="386.9" y2="76.7" stroke="#000" stroke-width="2.0"/><line x1="397.6" y1="76.7" x2="415.3" y2="76.7" stroke="#000" stroke-width="2.0"/><line x1="426" y1="76.7" x2="443.7" y2="76.7" stroke="#000" stroke-width="2.0"/><line x1="450.3" y1="76.7" x2="468.2" y2="76.7" stroke="#000" stroke-width="2.0"/><line x1="170.4" y1="1054" x2="188.1" y2="1054" stroke="#000" stroke-width="2.0"/><line x1="198.8" y1="1054" x2="216.5" y2="1054" stroke="#000" stroke-width="2.0"/><line x1="227.2" y1="1054" x2="244.9" y2="1054" stroke="#000" stroke-width="2.0"/><line x1="255.6" y1="1054" x2="273.3" y2="1054" stroke="#000" stroke-width="2.0"/><line x1="284" y1="1054" x2="301.7" y2="1054" stroke="#000" stroke-width="2.0"/><line x1="312.4" y1="1054" x2="330.1" y2="1054" stroke="#000" stroke-width="2.0"/><line x1="340.8" y1="1054" x2="358.5" y2="1054" stroke="#000" stroke-width="2.0"/><line x1="369.2" y1="1054" x2="386.9" y2="1054" stroke="#000" stroke-width="2.0"/><line x1="397.6" y1="1054" x2="415.3" y2="1054" stroke="#000" stroke-width="2.0"/><line x1="426" y1="1054" x2="443.7" y2="1054" stroke="#000" stroke-width="2.0"/><line x1="450.3" y1="1054" x2="468.2" y2="1054" stroke="#000" stroke-width="2.0"/><line x1="336.5" y1="76" x2="336.5" y2="112" stroke="#000" stroke-width="1.6"/><line x1="336.5" y1="130" x2="336.5" y2="152.5" stroke="#000" stroke-width="1.6"/><circle cx="336.5" cy="120" r="0.9" fill="#000"/><line x1="336.5" y1="169.72" x2="336.5" y2="192.22" stroke="#000" stroke-width="1.6"/><circle cx="336.5" cy="159.72" r="0.9" fill="#000"/><line x1="336.5" y1="209.44" x2="336.5" y2="231.94" stroke="#000" stroke-width="1.6"/><circle cx="336.5" cy="199.44" r="0.9" fill="#000"/><line x1="336.5" y1="249.16" x2="336.5" y2="271.66" stroke="#000" stroke-width="1.6"/><circle cx="336.5" cy="239.16" r="0.9" fill="#000"/><line x1="336.5" y1="288.88" x2="336.5" y2="311.38" stroke="#000" stroke-width="1.6"/><circle cx="336.5" cy="278.88" r="0.9" fill="#000"/><line x1="336.5" y1="328.6" x2="336.5" y2="351.1" stroke="#000" stroke-width="1.6"/><circle cx="336.5" cy="318.6" r="0.9" fill="#000"/><line x1="336.5" y1="368.32" x2="336.5" y2="390.82" stroke="#000" stroke-width="1.6"/><circle cx="336.5" cy="358.32" r="0.9" fill="#000"/><line x1="336.5" y1="408.04" x2="336.5" y2="430.54" stroke="#000" stroke-width="1.6"/><circle cx="336.5" cy="398.04" r="0.9" fill="#000"/><line x1="336.5" y1="447.76" x2="336.5" y2="470.26" stroke="#000" stroke-width="1.6"/><circle cx="336.5" cy="437.76" r="0.9" fill="#000"/><line x1="336.5" y1="487.48" x2="336.5" y2="509.98" stroke="#000" stroke-width="1.6"/><circle cx="336.5" cy="477.48" r="0.9" fill="#000"/><line x1="336.5" y1="527.2" x2="336.5" y2="549.7" stroke="#000" stroke-width="1.6"/><circle cx="336.5" cy="517.2" r="0.9" fill="#000"/><line x1="336.5" y1="566.92" x2="336.5" y2="589.42" stroke="#000" stroke-width="1.6"/><circle cx="336.5" cy="556.92" r="0.9" fill="#000"/><line x1="336.5" y1="606.64" x2="336.5" y2="629.14" stroke="#000" stroke-width="1.6"/><circle cx="336.5" cy="596.64" r="0.9" fill="#000"/><line x1="336.5" y1="646.36" x2="336.5" y2="668.86" stroke="#000" stroke-width="1.6"/><circle cx="336.5" cy="636.36" r="0.9" fill="#000"/><line x1="336.5" y1="686.08" x2="336.5" y2="708.58" stroke="#000" stroke-width="1.6"/><circle cx="336.5" cy="676.08" r="0.9" fill="#000"/><line x1="336.5" y1="725.8" x2="336.5" y2="748.3" stroke="#000" stroke-width="1.6"/><circle cx="336.5" cy="715.8" r="0.9" fill="#000"/><line x1="336.5" y1="765.52" x2="336.5" y2="788.02" stroke="#000" stroke-width="1.6"/><circle cx="336.5" cy="755.52" r="0.9" fill="#000"/><line x1="336.5" y1="805.24" x2="336.5" y2="827.74" stroke="#000" stroke-width="1.6"/><circle cx="336.5" cy="795.24" r="0.9" fill="#000"/><line x1="336.5" y1="844.96" x2="336.5" y2="867.46" stroke="#000" stroke-width="1.6"/><circle cx="336.5" cy="834.96" r="0.9" fill="#000"/><line x1="336.5" y1="884.68" x2="336.5" y2="907.18" stroke="#000" stroke-width="1.6"/><circle cx="336.5" cy="874.68" r="0.9" fill="#000"/><line x1="336.5" y1="924.4" x2="336.5" y2="946.9" stroke="#000" stroke-width="1.6"/><circle cx="336.5" cy="914.4" r="0.9" fill="#000"/><line x1="336.5" y1="964.12" x2="336.5" y2="986.62" stroke="#000" stroke-width="1.6"/><circle cx="336.5" cy="954.12" r="0.9" fill="#000"/><line x1="336.5" y1="1003.84" x2="336.5" y2="1026.34" stroke="#000" stroke-width="1.6"/><circle cx="336.5" cy="993.84" r="0.9" fill="#000"/><line x1="336.5" y1="1043.56" x2="336.5" y2="1066.06" stroke="#000" stroke-width="1.6"/><circle cx="336.5" cy="1033.56" r="0.9" fill="#000"/><line x1="336.5" y1="1083.28" x2="336.5" y2="1104.5" stroke="#000" stroke-width="1.6"/><circle cx="336.5" cy="1073.28" r="0.9" fill="#000"/><line x1="336.5" y1="1083.3" x2="336.5" y2="1104.5" stroke="#000" stroke-width="1.6"/><rect x="386.5" y="670.8" width="584.9" height="21.4" fill="url(#st)"/><rect x="386.5" y="820.3" width="584.9" height="21.1" fill="url(#st)"/><rect x="386.5" y="692.2" width="584.9" height="10.5" fill="url(#osb)"/><rect x="386.5" y="809.1" width="584.9" height="11.2" fill="url(#osb)"/><line x1="386.5" y1="692.8" x2="971.4" y2="692.8" stroke="#6a4a0e" stroke-width="1.3"/><line x1="386.5" y1="702.1" x2="971.4" y2="702.1" stroke="#5a3e0a" stroke-width="1.3"/><line x1="386.5" y1="809.7" x2="971.4" y2="809.7" stroke="#5a3e0a" stroke-width="1.3"/><line x1="386.5" y1="819.7" x2="971.4" y2="819.7" stroke="#8a6018" stroke-width="1.0"/><rect x="386.5" y="702.7" width="584.9" height="106.4" fill="#c9c57f"/><path clip-path="url(#cfa)" d="M386.05 718.4A16.15 15.7 0 0 1 418.35 718.4M369.9 792.3A16.15 16.8 0 0 0 402.2 792.3M369.9 792.3L386.05 718.4M402.2 792.3L386.05 718.4M418.35 718.4A16.15 15.7 0 0 1 450.65 718.4M402.2 792.3A16.15 16.8 0 0 0 434.5 792.3M402.2 792.3L418.35 718.4M434.5 792.3L418.35 718.4M450.65 718.4A16.15 15.7 0 0 1 482.95 718.4M434.5 792.3A16.15 16.8 0 0 0 466.8 792.3M434.5 792.3L450.65 718.4M466.8 792.3L450.65 718.4M482.95 718.4A16.15 15.7 0 0 1 515.25 718.4M466.8 792.3A16.15 16.8 0 0 0 499.1 792.3M466.8 792.3L482.95 718.4M499.1 792.3L482.95 718.4M515.25 718.4A16.15 15.7 0 0 1 547.55 718.4M499.1 792.3A16.15 16.8 0 0 0 531.4 792.3M499.1 792.3L515.25 718.4M531.4 792.3L515.25 718.4M547.55 718.4A16.15 15.7 0 0 1 579.85 718.4M531.4 792.3A16.15 16.8 0 0 0 563.7 792.3M531.4 792.3L547.55 718.4M563.7 792.3L547.55 718.4M579.85 718.4A16.15 15.7 0 0 1 612.15 718.4M563.7 792.3A16.15 16.8 0 0 0 596 792.3M563.7 792.3L579.85 718.4M596 792.3L579.85 718.4M612.15 718.4A16.15 15.7 0 0 1 644.45 718.4M596 792.3A16.15 16.8 0 0 0 628.3 792.3M596 792.3L612.15 718.4M628.3 792.3L612.15 718.4M644.45 718.4A16.15 15.7 0 0 1 676.75 718.4M628.3 792.3A16.15 16.8 0 0 0 660.6 792.3M628.3 792.3L644.45 718.4M660.6 792.3L644.45 718.4M676.75 718.4A16.15 15.7 0 0 1 709.05 718.4M660.6 792.3A16.15 16.8 0 0 0 692.9 792.3M660.6 792.3L676.75 718.4M692.9 792.3L676.75 718.4M709.05 718.4A16.15 15.7 0 0 1 741.35 718.4M692.9 792.3A16.15 16.8 0 0 0 725.2 792.3M692.9 792.3L709.05 718.4M725.2 792.3L709.05 718.4M741.35 718.4A16.15 15.7 0 0 1 773.65 718.4M725.2 792.3A16.15 16.8 0 0 0 757.5 792.3M725.2 792.3L741.35 718.4M757.5 792.3L741.35 718.4M773.65 718.4A16.15 15.7 0 0 1 805.95 718.4M757.5 792.3A16.15 16.8 0 0 0 789.8 792.3M757.5 792.3L773.65 718.4M789.8 792.3L773.65 718.4M805.95 718.4A16.15 15.7 0 0 1 838.25 718.4M789.8 792.3A16.15 16.8 0 0 0 822.1 792.3M789.8 792.3L805.95 718.4M822.1 792.3L805.95 718.4" fill="none" stroke="#656128" stroke-width="0.8"/><path clip-path="url(#cfb)" d="M762.83 717.6A13.89 14.9 0 0 1 790.61 717.6M748.94 795.3A13.89 13.8 0 0 0 776.72 795.3M748.94 795.3L762.83 717.6M776.72 795.3L762.83 717.6M790.61 717.6A13.89 14.9 0 0 1 818.39 717.6M776.72 795.3A13.89 13.8 0 0 0 804.5 795.3M776.72 795.3L790.61 717.6M804.5 795.3L790.61 717.6M818.39 717.6A13.89 14.9 0 0 1 846.17 717.6M804.5 795.3A13.89 13.8 0 0 0 832.28 795.3M804.5 795.3L818.39 717.6M832.28 795.3L818.39 717.6M846.17 717.6A13.89 14.9 0 0 1 873.95 717.6M832.28 795.3A13.89 13.8 0 0 0 860.06 795.3M832.28 795.3L846.17 717.6M860.06 795.3L846.17 717.6M873.95 717.6A13.89 14.9 0 0 1 901.73 717.6M860.06 795.3A13.89 13.8 0 0 0 887.84 795.3M860.06 795.3L873.95 717.6M887.84 795.3L873.95 717.6M901.73 717.6A13.89 14.9 0 0 1 929.51 717.6M887.84 795.3A13.89 13.8 0 0 0 915.62 795.3M887.84 795.3L901.73 717.6M915.62 795.3L901.73 717.6M929.51 717.6A13.89 14.9 0 0 1 957.29 717.6M915.62 795.3A13.89 13.8 0 0 0 943.4 795.3M915.62 795.3L929.51 717.6M943.4 795.3L929.51 717.6M957.29 717.6A13.89 14.9 0 0 1 985.07 717.6M943.4 795.3A13.89 13.8 0 0 0 971.18 795.3M943.4 795.3L957.29 717.6M971.18 795.3L957.29 717.6M985.07 717.6A13.89 14.9 0 0 1 1012.85 717.6M971.18 795.3A13.89 13.8 0 0 0 998.96 795.3M971.18 795.3L985.07 717.6M998.96 795.3L985.07 717.6M1012.85 717.6A13.89 14.9 0 0 1 1040.63 717.6M998.96 795.3A13.89 13.8 0 0 0 1026.74 795.3M998.96 795.3L1012.85 717.6M1026.74 795.3L1012.85 717.6M1040.63 717.6A13.89 14.9 0 0 1 1068.41 717.6M1026.74 795.3A13.89 13.8 0 0 0 1054.52 795.3M1026.74 795.3L1040.63 717.6M1054.52 795.3L1040.63 717.6" fill="none" stroke="#656128" stroke-width="0.8"/><rect x="387" y="702.7" width="47.5" height="106.4" fill="#eac48b"/><g clip-path="url(#cb1)"><path d="M421.3 702.7C421.3 715.24 427.08 725.4 434.2 725.4M416.4 702.7C416.4 718.39 424.37 731.1 434.2 731.1M414.3 702.7C414.3 725.51 423.21 744 434.2 744M406.3 702.7C406.3 727.83 418.79 748.2 434.2 748.2M401.3 702.7C401.3 730.09 416.03 752.3 434.2 752.3M390.7 702.7C390.7 732.3 410.17 756.3 434.2 756.3M378 702.7C378 735.06 403.16 761.3 434.2 761.3M368 702.7C368 737.94 397.64 766.5 434.2 766.5M358 702.7C358 741.36 392.11 772.7 434.2 772.7M386 774.3C407.69 773.1 422.15 775.22 434.2 778.9M386 779.6C407.69 778.4 422.15 780.68 434.2 785M386 784.3C407.69 783.1 422.15 785.12 434.2 788.4M386 788.2C407.69 787 422.15 789 434.2 792.2M386 793.1C407.69 791.9 422.15 794.2 434.2 798.6M386 797.5C403.73 796.3 415.55 799.8 425.4 809M386 803C400.22 801.8 409.7 804.2 417.6 809" fill="none" stroke="#3b2a10" stroke-width="1.1"/></g><line x1="434.5" y1="702.7" x2="434.5" y2="809.1" stroke="#222" stroke-width="1.2"/><rect x="757.5" y="702.7" width="47.3" height="106.4" fill="#eac48b"/><g clip-path="url(#cb2)"><path transform="translate(1191.7 0) scale(-1 1)" d="M421.3 702.7C421.3 715.24 427.08 725.4 434.2 725.4M416.4 702.7C416.4 718.39 424.37 731.1 434.2 731.1M414.3 702.7C414.3 725.51 423.21 744 434.2 744M406.3 702.7C406.3 727.83 418.79 748.2 434.2 748.2M401.3 702.7C401.3 730.09 416.03 752.3 434.2 752.3M390.7 702.7C390.7 732.3 410.17 756.3 434.2 756.3M378 702.7C378 735.06 403.16 761.3 434.2 761.3M368 702.7C368 737.94 397.64 766.5 434.2 766.5M358 702.7C358 741.36 392.11 772.7 434.2 772.7M386 774.3C407.69 773.1 422.15 775.22 434.2 778.9M386 779.6C407.69 778.4 422.15 780.68 434.2 785M386 784.3C407.69 783.1 422.15 785.12 434.2 788.4M386 788.2C407.69 787 422.15 789 434.2 792.2M386 793.1C407.69 791.9 422.15 794.2 434.2 798.6M386 797.5C403.73 796.3 415.55 799.8 425.4 809M386 803C400.22 801.8 409.7 804.2 417.6 809" fill="none" stroke="#3b2a10" stroke-width="1.1"/></g><line x1="804.8" y1="702.7" x2="804.8" y2="809.1" stroke="#222" stroke-width="1.2"/><line x1="757.5" y1="702.7" x2="757.5" y2="809.1" stroke="#222" stroke-width="1.2"/><path d="M387 670.8 H750.8 L753.7 673.1 H774 Q780.8 674 780.8 681.2 Q780.8 674 787.6 673.1 H809 L811.6 670.8 H971.4" fill="none" stroke="#666" stroke-width="1.2"/><rect x="750" y="670" width="62" height="2.3" fill="#fff"/><path d="M387 670.8 H750.8 L753.7 673.1 H774 Q780.8 674 780.8 681.2 Q780.8 674 787.6 673.1 H809 L811.6 670.8 H971.4" fill="none" stroke="#666" stroke-width="1.2"/><line x1="386.5" y1="681.4" x2="971.4" y2="681.4" stroke="#666" stroke-width="1.2"/><line x1="386.5" y1="830.8" x2="971.4" y2="830.8" stroke="#666" stroke-width="1.2"/><rect x="750" y="839.7" width="62" height="2.5" fill="#fff"/><path d="M387 841.4 H750.8 L753.7 839.1 H774 Q780.8 838.2 780.8 831 Q780.8 838.2 787.6 839.1 H809 L811.6 841.4 H971.4" fill="none" stroke="#666" stroke-width="1.2"/><line x1="971.4" y1="576.3" x2="971.4" y2="593.8" stroke="#000" stroke-width="2.0"/><line x1="971.4" y1="604.9" x2="971.4" y2="622.4" stroke="#000" stroke-width="2.0"/><line x1="971.4" y1="633.5" x2="971.4" y2="651" stroke="#000" stroke-width="2.0"/><line x1="971.4" y1="662.1" x2="971.4" y2="679.6" stroke="#000" stroke-width="2.0"/><line x1="971.4" y1="690.7" x2="971.4" y2="708.2" stroke="#000" stroke-width="2.0"/><line x1="971.4" y1="719.3" x2="971.4" y2="736.8" stroke="#000" stroke-width="2.0"/><line x1="971.4" y1="747.9" x2="971.4" y2="765.4" stroke="#000" stroke-width="2.0"/><line x1="971.4" y1="776.5" x2="971.4" y2="794" stroke="#000" stroke-width="2.0"/><line x1="971.4" y1="805.1" x2="971.4" y2="822.6" stroke="#000" stroke-width="2.0"/><line x1="971.4" y1="833.7" x2="971.4" y2="851.2" stroke="#000" stroke-width="2.0"/><line x1="971.4" y1="856.2" x2="971.4" y2="873.3" stroke="#000" stroke-width="2.0"/><line x1="387.5" y1="56" x2="387.5" y2="1113" stroke="#d6000c" stroke-width="5" stroke-linecap="round" stroke-dasharray="8.3 9.48"/><line x1="213" y1="549.3" x2="695" y2="549.3" stroke="#4a67b3" stroke-width="1.6"/><circle cx="214.6" cy="549.3" r="4.2" fill="#4a67b3"/><circle cx="248.9" cy="549.3" r="4.2" fill="#4a67b3"/><circle cx="284.6" cy="549.3" r="4.2" fill="#4a67b3"/><circle cx="336.4" cy="549.3" r="4.2" fill="#4a67b3"/><circle cx="383.4" cy="549.3" r="4.2" fill="#4a67b3"/><circle cx="390.2" cy="549.3" r="4.2" fill="#4a67b3"/><text transform="translate(453 538.7) scale(1 1.04)" font-family="Liberation Sans, sans-serif" font-size="24.4" fill="#4a67b3">SCHICHTAUFBAU</text><text transform="translate(667 539) scale(1 1.04)" font-family="Liberation Sans, sans-serif" font-size="40.6" fill="#4a67b3">A</text><line x1="893.1" y1="312" x2="893.1" y2="836.5" stroke="#4a67b3" stroke-width="1.6"/><circle cx="893.1" cy="676" r="4.2" fill="#4a67b3"/><circle cx="893.1" cy="687.1" r="4.2" fill="#4a67b3"/><circle cx="893.1" cy="697.7" r="4.2" fill="#4a67b3"/><circle cx="893.1" cy="756.4" r="4.2" fill="#4a67b3"/><circle cx="893.1" cy="814.7" r="4.2" fill="#4a67b3"/><circle cx="893.1" cy="825.2" r="4.2" fill="#4a67b3"/><circle cx="893.1" cy="836.3" r="4.2" fill="#4a67b3"/><g transform="translate(883 551.3) rotate(-90)"><text transform="scale(1 1.04)" font-family="Liberation Sans, sans-serif" font-size="24.4" fill="#4a67b3">SCHICHTAUFBAU</text><text transform="translate(212 0) scale(1 1.04)" font-family="Liberation Sans, sans-serif" font-size="40.6" fill="#4a67b3">B</text></g><rect x="858.8" y="76.2" width="112.4" height="35" fill="none" stroke="#b3141c" stroke-width="1.7"/><text transform="translate(873.7 101.2) scale(1 1.03)" font-family="Liberation Sans, sans-serif" font-weight="bold" font-size="20.3" fill="#c3101a">BEHEIZT</text><rect x="858.8" y="1019.8" width="112.4" height="34.5" fill="none" stroke="#b3141c" stroke-width="1.7"/><text transform="translate(873.7 1044.6) scale(1 1.03)" font-family="Liberation Sans, sans-serif" font-weight="bold" font-size="20.3" fill="#c3101a">BEHEIZT</text><rect x="42.1" y="1020.1" width="129.7" height="34" fill="none" stroke="#5b6fad" stroke-width="1.7"/><text transform="translate(47.7 1044.5) scale(1 1.03)" font-family="Liberation Sans, sans-serif" font-weight="bold" font-size="20.3" fill="#4a67b3">UNBEHEIZT</text><line x1="390" y1="935.6" x2="544.4" y2="935.6" stroke="#8b0c12" stroke-width="1.7"/><text transform="translate(551.2 942.6) scale(1 1.02)" font-family="Liberation Sans, sans-serif" font-weight="bold" font-size="16.27" fill="#8b0c12">LUFTDICHTHEITSEBENE</text><circle cx="336.55" cy="1129.7" r="25.2" fill="#fff" stroke="#000" stroke-width="1.4"/><text transform="translate(336.4 1140) scale(1 1.03)" text-anchor="middle" font-family="Liberation Sans, sans-serif" font-weight="bold" font-size="33" fill="#000">A</text></svg></body></html>
